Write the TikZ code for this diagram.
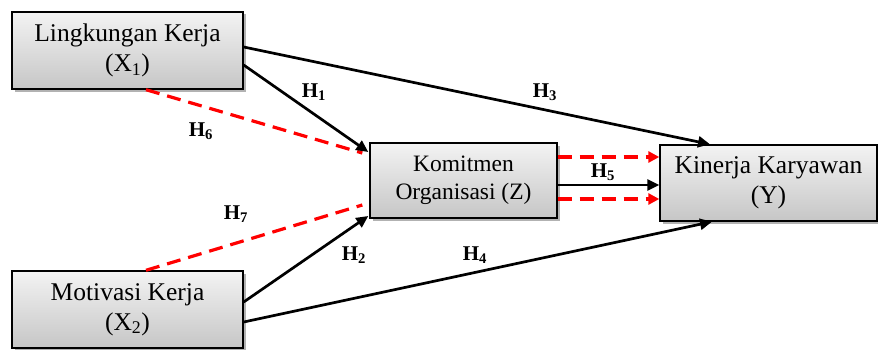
\documentclass[tikz,border=0pt]{standalone}
\usepackage{fontspec}
\setmainfont{Liberation Serif}
\usetikzlibrary{arrows.meta,shadows}
\definecolor{boxtop}{RGB}{243,243,243}
\definecolor{boxbot}{RGB}{198,198,198}
\begin{document}
\begin{tikzpicture}[x=1pt,y=1pt,
  box/.style={draw=black, line width=1.4pt, top color=boxtop, bottom color=boxbot,
    drop shadow={shadow xshift=2.5pt, shadow yshift=-2.5pt, opacity=0.3, fill=black},
    align=center, inner sep=0pt, font=\fontsize{25.5}{30}\selectfont},
  link/.style={draw=black, line width=2.7pt, -{Triangle[length=12pt,width=11pt]}},
  rel/.style={draw=red, line width=3.2pt, dash pattern=on 14pt off 8pt},
  relarrow/.style={rel, -{Triangle[length=11pt,width=11pt,fill=red]}},
  hl/.style={font=\bfseries\fontsize{21}{23}\selectfont, inner sep=0pt}
]
\useasboundingbox (0,0) rectangle (878,349);

\node[box, minimum width=231pt, minimum height=77pt] (x1) at (127.5,298.5) {Lingkungan Kerja\\(X\textsubscript{1})};
\node[box, minimum width=231pt, minimum height=77pt] (x2) at (127.5,39.5) {Motivasi Kerja\\(X\textsubscript{2})};
\node[box, minimum width=187pt, minimum height=75pt, font=\fontsize{23.5}{28}\selectfont] (z) at (463.5,168.5) {Komitmen\\Organisasi (Z)};
\node[box, minimum width=217pt, minimum height=76pt] (y) at (768.5,166) {Kinerja Karyawan\\(Y)};

% dashed red relations
\draw[rel] ([xshift=18.5pt]x1.south) -- ([xshift=-7pt,yshift=27.5pt]z.west);
\draw[rel] ([xshift=18.5pt]x2.north) -- ([xshift=-7pt,yshift=-24.5pt]z.west);

% black arrows
\draw[link] ([yshift=3.5pt]x1.east) -- ([xshift=-58.5pt]y.north);
\draw[link] ([yshift=-14.5pt]x1.east) -- ([xshift=-1pt,yshift=28.5pt]z.west);
\draw[link] ([yshift=7.5pt]x2.east) -- ([xshift=-1pt,yshift=-35.5pt]z.west);
\draw[link] ([yshift=-12.5pt]x2.east) -- ([xshift=-56.5pt]y.south);

% Z to Y
\draw[relarrow] ([yshift=23.5pt]z.east) -- ([yshift=26pt]y.west);
\draw[link] ([yshift=-4.5pt]z.east) -- ([yshift=-2pt]y.west);
\draw[relarrow] ([yshift=-18.5pt]z.east) -- ([yshift=-16pt]y.west);

% labels
\node[hl] (h1) at (314,257) {H\textsubscript{1}};
\node[hl] (h3) at (545,257) {H\textsubscript{3}};
\node[hl] (h6) at (201,218) {H\textsubscript{6}};
\node[hl] (h5) at (603,177) {H\textsubscript{5}};
\node[hl] (h7) at (236,135) {H\textsubscript{7}};
\node[hl] (h2) at (354,94) {H\textsubscript{2}};
\node[hl] (h4) at (475,94) {H\textsubscript{4}};
\end{tikzpicture}
\end{document}
